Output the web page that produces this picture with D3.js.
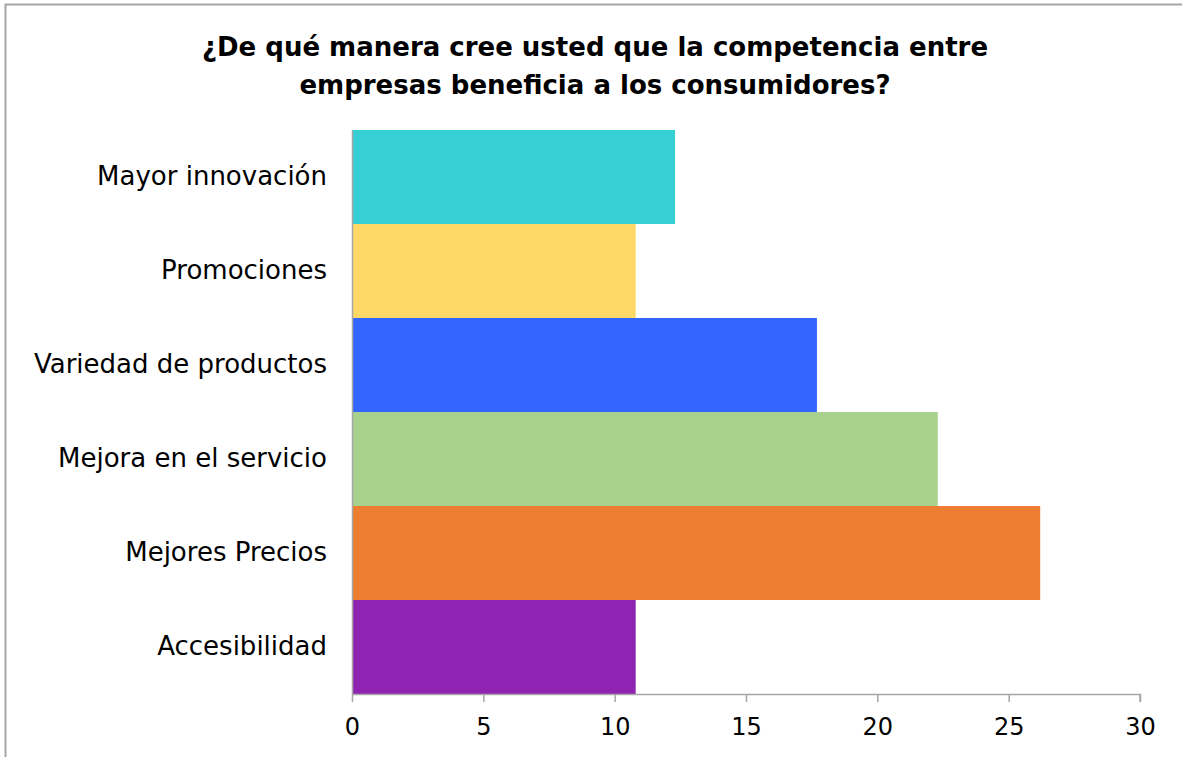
<!DOCTYPE html>
<html>
<head>
<meta charset="utf-8">
<script src="https://cdn.jsdelivr.net/npm/d3@7"></script>
<style>
  body { margin: 0; background: #fff; }
  svg { display: block; font-family: "DejaVu Sans", sans-serif; }
</style>
</head>
<body>
<script>
var categories = ["Mayor innovación", "Promociones", "Variedad de productos",
                  "Mejora en el servicio", "Mejores Precios", "Accesibilidad"];
var values = [12.3, 10.8, 17.7, 22.3, 26.2, 10.8];
var colors = ["#36cfd3", "#ffd966", "#3366ff", "#a9d18e", "#ed7d31", "#8e24b1"];
var xTicks = [0, 5, 10, 15, 20, 25, 30];
var titleLines = ["¿De qué manera cree usted que la competencia entre",
                  "empresas beneficia a los consumidores?"];

var width = 1182, height = 757;
var margin = {top: 130, right: 42, bottom: 63, left: 352};

var svg = d3.select("body").append("svg")
    .attr("width", width)
    .attr("height", height);

// outer frame (runs past the right and bottom edges)
svg.append("rect")
    .attr("x", 5.5).attr("y", 4.5)
    .attr("width", 1300).attr("height", 900)
    .attr("fill", "none")
    .attr("stroke", "#a6a6a6")
    .attr("stroke-width", 2);

svg.append("text")
    .attr("x", 595).attr("y", 56)
    .attr("text-anchor", "middle")
    .attr("font-weight", "bold")
    .attr("font-size", 26)
    .selectAll("tspan")
    .data(titleLines)
  .enter().append("tspan")
    .attr("x", 595)
    .attr("dy", function(d, i) { return i ? 38 : 0; })
    .text(function(d) { return d; });

var x = d3.scaleLinear()
    .domain([0, 30])
    .range([margin.left, width - margin.right]);

var y = d3.scaleBand()
    .domain(categories)
    .range([margin.top, height - margin.bottom])
    .padding(0);

svg.selectAll(".bar")
    .data(categories)
  .enter().append("rect")
    .attr("class", "bar")
    .attr("x", x(0))
    .attr("y", function(d) { return y(d); })
    .attr("width", function(d, i) { return x(values[i]) - x(0); })
    .attr("height", y.bandwidth())
    .attr("fill", function(d, i) { return colors[i]; });

// x axis
var xAxis = svg.append("g")
    .attr("transform", "translate(0," + (height - margin.bottom) + ")")
    .call(d3.axisBottom(x).tickValues(xTicks).tickSize(8).tickPadding(16));
xAxis.selectAll("path, line").attr("stroke", "#a6a6a6").attr("stroke-width", 1.5);
xAxis.select(".domain").attr("d", "M" + x(0) + ",0.5H" + x(30) + "V8");
xAxis.selectAll("text")
    .attr("font-family", "DejaVu Sans, sans-serif")
    .attr("font-size", 24)
    .attr("fill", "#000");

// y axis
var yAxis = svg.append("g")
    .attr("transform", "translate(" + x(0) + ",0)")
    .call(d3.axisLeft(y).tickSize(0).tickPadding(25));
yAxis.select(".domain").attr("stroke", "#a6a6a6").attr("stroke-width", 1.5);
yAxis.selectAll("text")
    .attr("font-family", "DejaVu Sans, sans-serif")
    .attr("font-size", 26)
    .attr("fill", "#000");
</script>
</body>
</html>
